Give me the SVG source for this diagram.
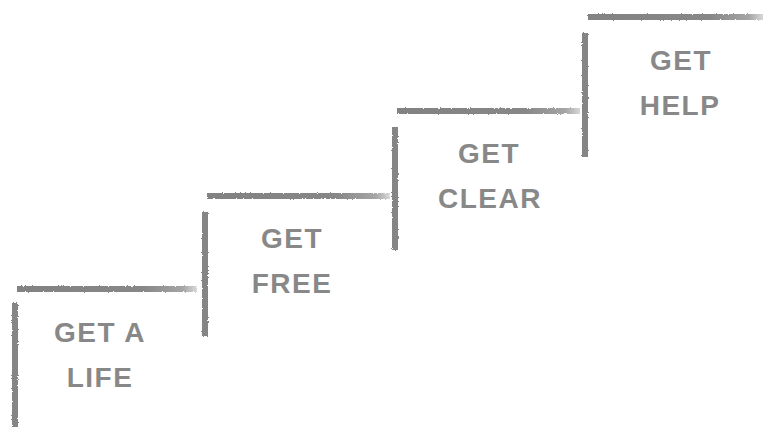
<svg xmlns="http://www.w3.org/2000/svg" width="770" height="427" viewBox="0 0 770 427">
<defs>
<linearGradient id="fade" x1="0" y1="0" x2="1" y2="0">
<stop offset="0" stop-color="#828282"/>
<stop offset="0.7" stop-color="#878787"/>
<stop offset="0.92" stop-color="#a5a5a5"/>
<stop offset="1" stop-color="#d8d8d8"/>
</linearGradient>
<filter id="rough" x="-5%" y="-50%" width="110%" height="200%">
<feTurbulence type="fractalNoise" baseFrequency="0.6" numOctaves="2" seed="3"/>
<feDisplacementMap in="SourceGraphic" scale="2.5"/>
</filter>
<style>
.h{fill:url(#fade);filter:url(#rough)}
.v{fill:#858585;filter:url(#rough)}
.t{font-family:"Liberation Sans",Arial,sans-serif;font-weight:bold;font-size:28px;fill:#888;text-anchor:middle;letter-spacing:1.5px}
</style>
</defs>
<rect width="770" height="427" fill="#fff"/>
<g id="step1">
<rect class="h" x="17" y="286" width="180" height="6"/>
<rect class="v" x="12" y="303" width="6" height="124"/>
<text class="t" x="100" y="342">GET A</text>
<text class="t" x="100" y="387">LIFE</text>
</g>
<g id="step2">
<rect class="h" x="207" y="193" width="183" height="6"/>
<rect class="v" x="202" y="212" width="6" height="124"/>
<text class="t" x="292" y="248">GET</text>
<text class="t" x="292" y="293">FREE</text>
</g>
<g id="step3">
<rect class="h" x="397" y="108" width="183" height="6"/>
<rect class="v" x="392" y="127" width="6" height="123"/>
<text class="t" x="489" y="163">GET</text>
<text class="t" x="490" y="208">CLEAR</text>
</g>
<g id="step4">
<rect class="h" x="588" y="14" width="175" height="6"/>
<rect class="v" x="582" y="33" width="6" height="124"/>
<text class="t" x="681" y="70">GET</text>
<text class="t" x="680" y="115">HELP</text>
</g>
</svg>
